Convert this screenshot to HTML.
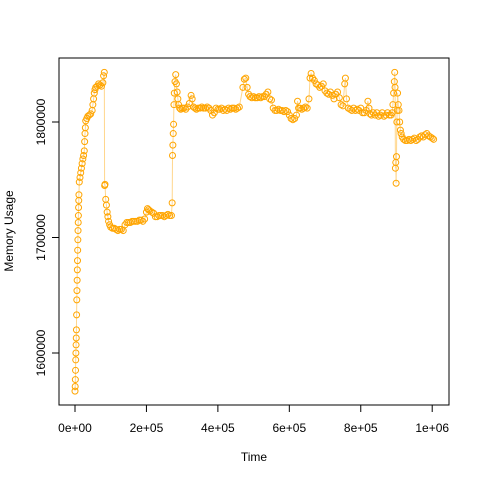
<!DOCTYPE html>
<html><head><meta charset="utf-8"><style>
html,body{margin:0;padding:0;background:#fff;}
svg{display:block;font-family:"Liberation Sans",sans-serif;}
</style></head><body>
<svg id="chart" width="480" height="480">
<rect x="59" y="58" width="390" height="347" fill="none" stroke="#000" stroke-width="1"/>
<g id="axes"></g>
<g id="series"></g>
<text x="254" y="461" font-size="12" text-anchor="middle">Time</text>
<text transform="translate(13,231) rotate(-90)" font-size="12" text-anchor="middle">Memory Usage</text>
</svg>
<script>
// time in thousands
const times = [0,0.5,1,1.5,2,2.5,3,3.5,4,4.5,5,5.5,6,6.5,7,7.5,8,8.5,9,9.5,10,10.5,11,
12,14,16,18,20,22,24,26,27,28,29,30,33,36,40,44,48,50,52,54,56,58,62,66,70,74,78,80,82,83,84,86,88,90,92,94,97,100,105,110,115,120,125,130,135,140,145,150,155,160,165,170,175,180,185,190,195,200,203,206,210,215,220,225,230,235,240,245,250,255,260,265,270,272,273,274,275,276,277,278,280,282,284,286,288,290,293,296,300,305,310,315,320,325,328,332,336,340,345,350,355,360,365,370,375,380,385,390,395,400,405,410,415,420,425,430,435,440,
445,450,455,460,470,474,478,482,486,490,495,500,505,510,515,520,525,530,535,540,545,550,555,560,565,570,575,580,585,590,595,600,605,610,615,620,623,626,630,635,640,645,650,655,658,661,665,670,675,680,685,690,695,700,705,710,715,720,725,730,735,740,745,750,755,757,760,765,770,775,780,785,790,795,800,805,810,815,820,823,826,830,835,840,845,850,855,860,865,870,875,880,885,888,890,892,894,895,896,897,898,899,900,901,902,903,905,907,909,911,913,916,920,925,930,935,940,945,950,955,960,965,970,975,980,985,990,995,1000,1004];
// memory in thousands
const values = [1567,1571,1577,1585,1594,1600,1607,1613,1620,1633,1646,1654,1663,1672,1680,1689,1698,1706,1713,1719,1726,1732,1737,
1748,1752,1756,1760,1764,1768,1771,1775,1783,1790,1795,1801,1803,1805,1806,1807,1810,1815,1820,1825,1828,1830,1831,1833,1832,1831,1834,1840,1843,1745,1746,1733,1728,1722,1718,1714,1711,1709,1708,1708,1707,1706,1707,1707,1706,1711,1713,1713,1713,1714,1714,1714,1714,1715,1715,1714,1716,1722,1725,1724,1723,1722,1721,1718,1718,1719,1719,1719,1718,1719,1720,1719,1719,1730,1771,1780,1790,1798,1815,1825,1835,1841,1833,1826,1820,1815,1812,1811,1812,1812,1811,1813,1816,1823,1820,1813,1812,1811,1812,1812,1813,1812,1812,1813,1812,1810,1806,1808,1812,1811,1811,1812,1810,1811,1810,1812,1811,1812,
1812,1811,1812,1813,1830,1837,1838,1830,1824,1822,1821,1822,1821,1821,1822,1821,1822,1822,1824,1826,1820,1819,1812,1810,1810,1811,1810,1810,1809,1810,1809,1806,1803,1802,1803,1806,1818,1812,1812,1811,1812,1813,1812,1820,1838,1842,1838,1836,1833,1832,1830,1831,1833,1827,1825,1824,1826,1823,1820,1824,1826,1821,1815,1814,1833,1838,1820,1812,1811,1810,1812,1810,1811,1810,1812,1808,1808,1810,1818,1812,1807,1806,1808,1806,1808,1805,1806,1808,1805,1806,1808,1806,1806,1808,1815,1825,1835,1843,1830,1760,1765,1747,1770,1800,1810,1825,1815,1810,1800,1793,1790,1787,1785,1784,1784,1785,1784,1785,1786,1784,1785,1787,1788,1787,1789,1790,1788,1787,1786,1785];
const xTicks = [0,200,400,600,800,1000];
const xTickLabels = ["0e+00","2e+05","4e+05","6e+05","8e+05","1e+06"];
const yTicks = [1600,1700,1800];
const yTickLabels = ["1600000","1700000","1800000"];

const NS="http://www.w3.org/2000/svg";
function xs(t){return 75+(t-0)*0.3572;}
function ys(v){return 122-(v-1800)*1.155;}
const axes=document.getElementById('axes');
const ser=document.getElementById('series');
function mk(tag,attrs,parent){const e=document.createElementNS(NS,tag);for(const k in attrs)e.setAttribute(k,attrs[k]);parent.appendChild(e);return e;}
// x axis
mk('line',{x1:xs(xTicks[0]),x2:xs(xTicks[xTicks.length-1]),y1:405,y2:405,stroke:'#000'},axes);
xTicks.forEach((t,i)=>{
  const tk=mk('line',{x1:xs(t),x2:xs(t),y1:405,y2:412,stroke:'#000'},axes);
  
  
  const lb=mk('text',{x:xs(t),y:432,'font-size':12,'text-anchor':'middle'},axes);
  lb.textContent=xTickLabels[i];
  
  
});
// y axis
mk('line',{x1:59,x2:59,y1:ys(yTicks[0]),y2:ys(yTicks[yTicks.length-1]),stroke:'#000'},axes);
yTicks.forEach((v,i)=>{
  const tk=mk('line',{x1:52,x2:59,y1:ys(v),y2:ys(v),stroke:'#000'},axes);
  
  
  const lb=mk('text',{transform:`translate(45,${ys(v)}) rotate(-90)`,'font-size':12,'text-anchor':'middle'},axes);
  lb.textContent=yTickLabels[i];
  
  
});
// line
const pts=times.map((t,i)=>xs(t).toFixed(1)+','+ys(values[i]).toFixed(1)).join(' ');
const pl=mk('polyline',{points:pts,fill:'none',stroke:'#FFA500','stroke-opacity':0.45,'stroke-width':1},ser);


times.forEach((t,i)=>{
  const c=mk('circle',{cx:xs(t),cy:ys(values[i]),r:3,fill:'none',stroke:'#FFA500','stroke-width':1},ser);
  
  
});
</script>
</body></html>
